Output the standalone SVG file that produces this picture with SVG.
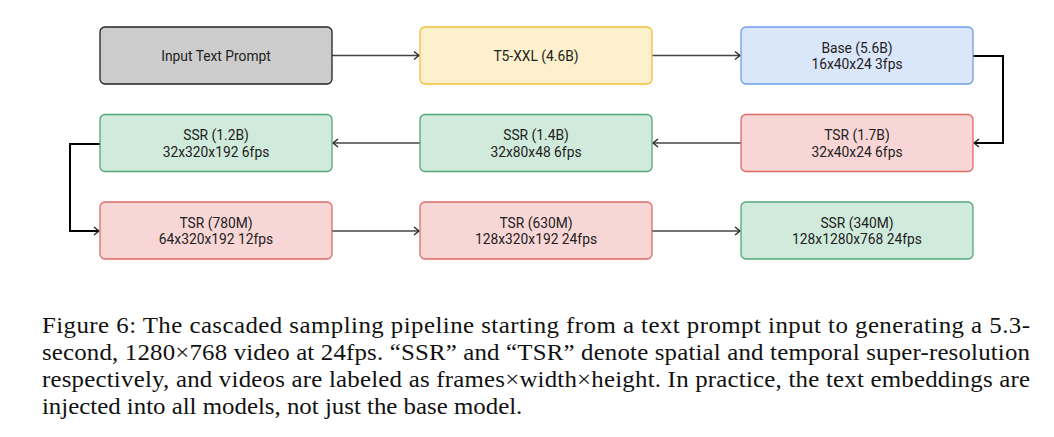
<svg xmlns="http://www.w3.org/2000/svg" width="1054" height="437" viewBox="0 0 1054 437">
<style>
.box{stroke-width:1.3}
.lbl{font-family:Roboto,"Liberation Sans",sans-serif;font-size:13.8px;fill:#222;text-anchor:middle}
.gray{fill:#cccccc;stroke:#222}
.yel{fill:#fdf1cd;stroke:#f0c03c}
.blu{fill:#dae6fa;stroke:#6d9eeb}
.red{fill:#f8d6d6;stroke:#dc6b66}
.grn{fill:#d0eadb;stroke:#52a877}
.conn{fill:none;stroke:#444;stroke-width:1.4}
.thick{fill:none;stroke:#000;stroke-width:2}
.cap{font-family:"Liberation Serif","Times New Roman",serif;font-size:24px;fill:#111}
</style>
<defs>
<marker id="ah" markerWidth="10" markerHeight="10" refX="8" refY="5" orient="auto" markerUnits="userSpaceOnUse">
<path d="M3,1 L8,5 L3,9" fill="none" stroke="#222" stroke-width="1.3"/>
</marker>
</defs>
<rect width="1054" height="437" fill="#fff"/>
<g id="connectors">
<path class="conn" d="M332,55.5 H419" marker-end="url(#ah)"/>
<path class="conn" d="M652,55.5 H740" marker-end="url(#ah)"/>
<path class="thick" d="M973,56 H1003 V143 H974" marker-end="url(#ah)"/>
<path class="conn" d="M741,143 H653" marker-end="url(#ah)"/>
<path class="conn" d="M420,143 H333" marker-end="url(#ah)"/>
<path class="thick" d="M100,144 H70 V231 H99" marker-end="url(#ah)"/>
<path class="conn" d="M332,231 H419" marker-end="url(#ah)"/>
<path class="conn" d="M652,231 H740" marker-end="url(#ah)"/>
</g>
<g id="input">
<rect class="box gray" x="100" y="27" width="232" height="57" rx="5"/>
<text class="lbl" x="216" y="60.5">Input Text Prompt</text>
</g>
<g id="t5">
<rect class="box yel" x="420" y="27" width="232" height="57" rx="5"/>
<text class="lbl" x="536" y="60.5">T5-XXL (4.6B)</text>
</g>
<g id="base">
<rect class="box blu" x="741" y="27" width="232" height="57" rx="5"/>
<text class="lbl" x="857" y="52.5">Base (5.6B)</text>
<text class="lbl" x="857" y="69">16x40x24 3fps</text>
</g>
<g id="tsr17">
<rect class="box red" x="741" y="114.5" width="232" height="57" rx="5"/>
<text class="lbl" x="857" y="140">TSR (1.7B)</text>
<text class="lbl" x="857" y="156.5">32x40x24 6fps</text>
</g>
<g id="ssr14">
<rect class="box grn" x="420" y="114.5" width="232" height="57" rx="5"/>
<text class="lbl" x="536" y="140">SSR (1.4B)</text>
<text class="lbl" x="536" y="156.5">32x80x48 6fps</text>
</g>
<g id="ssr12">
<rect class="box grn" x="100" y="114.5" width="232" height="57" rx="5"/>
<text class="lbl" x="216" y="140">SSR (1.2B)</text>
<text class="lbl" x="216" y="156.5">32x320x192 6fps</text>
</g>
<g id="tsr780">
<rect class="box red" x="100" y="202" width="232" height="57" rx="5"/>
<text class="lbl" x="216" y="227.5">TSR (780M)</text>
<text class="lbl" x="216" y="244">64x320x192 12fps</text>
</g>
<g id="tsr630">
<rect class="box red" x="420" y="202" width="232" height="57" rx="5"/>
<text class="lbl" x="536" y="227.5">TSR (630M)</text>
<text class="lbl" x="536" y="244">128x320x192 24fps</text>
</g>
<g id="ssr340">
<rect class="box grn" x="741" y="202" width="232" height="57" rx="5"/>
<text class="lbl" x="857" y="227.5">SSR (340M)</text>
<text class="lbl" x="857" y="244">128x1280x768 24fps</text>
</g>
<g id="caption" transform="scale(1.036,1)">
<text class="cap" x="40.5" y="333" textLength="953.7" lengthAdjust="spacing">Figure 6: The cascaded sampling pipeline starting from a text prompt input to generating a 5.3-</text>
<text class="cap" x="40.5" y="360" textLength="953.7" lengthAdjust="spacing">second, 1280×768 video at 24fps. “SSR” and “TSR” denote spatial and temporal super-resolution</text>
<text class="cap" x="40.5" y="387" textLength="953.7" lengthAdjust="spacing">respectively, and videos are labeled as frames×width×height. In practice, the text embeddings are</text>
<text class="cap" x="40.5" y="414">injected into all models, not just the base model.</text>
</g>
</svg>
